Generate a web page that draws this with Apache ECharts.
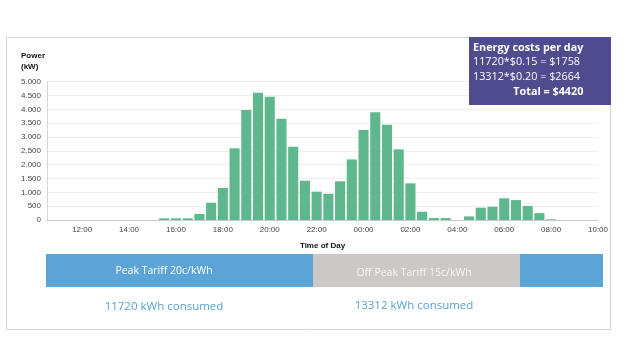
<!DOCTYPE html>
<html>
<head>
<meta charset="utf-8">
<script src="https://cdn.jsdelivr.net/npm/echarts@6/dist/echarts.min.js"></script>
<style>
  html, body { margin: 0; padding: 0; background: #fff; }
  #chart { width: 625px; height: 352px; }
</style>
</head>
<body>
<div id="chart"></div>
<script>
// half-hour slots, 10:30 to 10:00 next morning
const times = [
  '10:30', '11:00', '11:30', '12:00', '12:30', '13:00', '13:30', '14:00',
  '14:30', '15:00', '15:30', '16:00', '16:30', '17:00', '17:30', '18:00',
  '18:30', '19:00', '19:30', '20:00', '20:30', '21:00', '21:30', '22:00',
  '22:30', '23:00', '23:30', '00:00', '00:30', '01:00', '01:30', '02:00',
  '02:30', '03:00', '03:30', '04:00', '04:30', '05:00', '05:30', '06:00',
  '06:30', '07:00', '07:30', '08:00', '08:30', '09:00', '09:30', '10:00'
];
const power = [
  0, 0, 0, 0, 0, 0, 0, 0,
  0, 0, 60, 60, 60, 220, 625, 1160,
  2590, 3975, 4600, 4460, 3660, 2650, 1420, 1025,
  950, 1400, 2190, 3250, 3900, 3445, 2555, 1325,
  300, 70, 70, 0, 130, 445, 480, 785,
  720, 505, 250, 25, 0, 0, 0, 0
];
const costLines = ['11720*$0.15 = $1758', '13312*$0.20 = $2664'];
const costTotal = 'Total = $4420';
const tariffs = ['Peak Tariff 20c/kWh', 'Off Peak Tariff 15c/kWh'];
const consumed = ['11720 kWh consumed', '13312 kWh consumed'];

const chartInstance = echarts.init(document.getElementById('chart'));

const labelFont = 'Liberation Sans, Arial, sans-serif';
const uiFont = 'Open Sans, Noto Sans, sans-serif';

// dotted thousands: 4500 -> 4.500
const fmt = v => String(v).replace(/\B(?=(\d{3})+(?!\d))/g, '.');

const option = {
  animation: false,
  grid: { left: 47, right: 27, top: 81.7, bottom: 132, containLabel: false },
  xAxis: {
    type: 'category',
    data: times,
    boundaryGap: false,
    name: 'Time of Day',
    nameLocation: 'middle',
    nameGap: 22,
    nameTextStyle: { fontFamily: labelFont, fontSize: 8, fontWeight: 'bold', color: '#111' },
    axisLine: { lineStyle: { color: '#c8c8c8' } },
    axisTick: { show: false },
    axisLabel: {
      interval: (i) => (i - 3) % 4 === 0,
      fontFamily: labelFont,
      fontSize: 8,
      color: '#444',
      margin: 6
    }
  },
  yAxis: {
    type: 'value',
    min: 0,
    max: 5000,
    interval: 500,
    axisLine: { show: true, lineStyle: { color: '#d6d6d6' } },
    axisTick: { show: false },
    splitLine: { lineStyle: { color: '#efefef' } },
    axisLabel: {
      formatter: fmt,
      fontFamily: labelFont,
      fontSize: 8,
      color: '#444',
      margin: 6
    }
  },
  series: [{
    type: 'bar',
    data: power,
    barCategoryGap: '14%',
    itemStyle: { color: '#5fb78d' }
  }],
  graphic: [
    {
      type: 'rect', silent: true, z: -1,
      shape: { x: 6.5, y: 37.5, width: 604, height: 292 },
      style: { fill: 'none', stroke: '#d4d4d4', lineWidth: 1 }
    },
    {
      type: 'text', left: 21, top: 50,
      style: { text: 'Power\n(kW)', font: 'bold 8px ' + labelFont, fill: '#111', lineHeight: 11 }
    },
    {
      type: 'rect', silent: true, z: 100,
      shape: { x: 469, y: 37, width: 142, height: 68 },
      style: { fill: '#4e4b8f' }
    },
    {
      type: 'text', left: 473, top: 42, z: 101,
      style: {
        text: '{b|Energy costs per day}\n{n|' + costLines[0] + '}\n{n|' + costLines[1] + '}\n{t|' + costTotal + '}',
        fill: '#fff',
        rich: {
          b: { fontFamily: uiFont, fontSize: 10.8, fontWeight: 'bold', lineHeight: 14.7, fill: '#fff' },
          n: { fontFamily: uiFont, fontSize: 10.8, lineHeight: 14.7, fill: '#fff' },
          t: { fontFamily: uiFont, fontSize: 10.8, fontWeight: 'bold', lineHeight: 14.7, fill: '#fff', width: 106, align: 'right' }
        }
      }
    },
    {
      type: 'rect', silent: true,
      shape: { x: 46, y: 254, width: 557, height: 33 },
      style: { fill: '#5aa5d6' }
    },
    {
      type: 'rect', silent: true,
      shape: { x: 313, y: 254, width: 207, height: 33 },
      style: { fill: '#ccc8c5' }
    },
    {
      type: 'text', x: 164, y: 271.5,
      style: { text: tariffs[0], font: '10.5px ' + uiFont, fill: '#fff', align: 'center', verticalAlign: 'middle' }
    },
    {
      type: 'text', x: 414, y: 273,
      style: { text: tariffs[1], font: '10.5px ' + uiFont, fill: '#f7f7f7', align: 'center', verticalAlign: 'middle' }
    },
    {
      type: 'text', x: 164, y: 306.5,
      style: { text: consumed[0], font: '11.5px ' + uiFont, fill: '#55a3cf', align: 'center', verticalAlign: 'middle' }
    },
    {
      type: 'text', x: 414, y: 305.5,
      style: { text: consumed[1], font: '11.5px ' + uiFont, fill: '#55a3cf', align: 'center', verticalAlign: 'middle' }
    }
  ]
};

chartInstance.setOption(option);
</script>
</body>
</html>
